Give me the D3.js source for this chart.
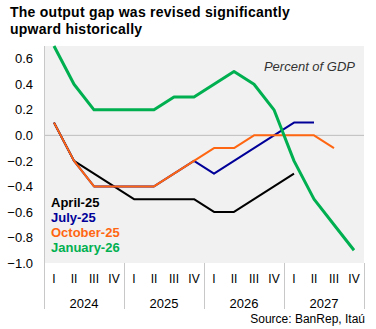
<!DOCTYPE html>
<html>
<head>
<meta charset="utf-8">
<script src="https://cdn.jsdelivr.net/npm/d3@7"></script>
<style>
  body { margin: 0; background: #fff; }
  svg { display: block; font-family: "Liberation Sans", Arial, sans-serif; }
</style>
</head>
<body>
<div id="chart"></div>
<script>
// data
const years = ["2024", "2025", "2026", "2027"];
const quarters = ["I", "II", "III", "IV"];
const seriesNames = ["April-25", "July-25", "October-25", "January-26"];
const seriesColors = ["#000000", "#000099", "#ff6611", "#00b050"];

const april25 = [0.1, -0.2, -0.3, -0.4, -0.5, -0.5, -0.5, -0.5, -0.6, -0.6, -0.5, -0.4, -0.3];
const july25 = [0.1, -0.2, -0.4, -0.4, -0.4, -0.4, -0.3, -0.2, -0.3, -0.2, -0.1, 0.0, 0.1, 0.1];
const october25 = [0.1, -0.2, -0.4, -0.4, -0.4, -0.4, -0.3, -0.2, -0.1, -0.1, 0.0, 0.0, 0.0, 0.0, -0.1];
const january26 = [0.7, 0.4, 0.2, 0.2, 0.2, 0.2, 0.3, 0.3, 0.4, 0.5, 0.4, 0.2, -0.2, -0.5, -0.7, -0.9];
const yTicks = [0.6, 0.4, 0.2, 0.0, -0.2, -0.4, -0.6, -0.8, -1.0];

const allSeries = [april25, july25, october25, january26];
const periods = years.flatMap(y => quarters.map(q => y + "-" + q));

// chart variables
const width = 376, height = 329;
const plotLeft = 44, plotRight = 364, plotTop = 46, plotBottom = 263;

const svg = d3.select("#chart").append("svg")
    .attr("width", width)
    .attr("height", height);

// scales
const xScale = d3.scaleBand().domain(periods).range([plotLeft, plotRight]);
const yearScale = d3.scaleBand().domain(years).range([plotLeft, plotRight]);
const yScale = d3.scaleLinear().domain([-1.0, 0.7]).range([plotBottom, plotTop]);

// title
const title = svg.append("text")
    .attr("x", 10)
    .attr("y", 17)
    .attr("font-size", 14)
    .attr("font-weight", "bold")
    .attr("letter-spacing", 0.25)
    .attr("fill", "#000");
title.append("tspan").attr("x", 10).attr("dy", 0).text("The output gap was revised significantly");
title.append("tspan").attr("x", 10).attr("dy", 17).text("upward historically");

// plot background
svg.append("rect")
    .attr("x", plotLeft)
    .attr("y", plotTop)
    .attr("width", plotRight - plotLeft)
    .attr("height", plotBottom - plotTop)
    .attr("fill", "#f1f1f1");

// zero line
svg.append("line")
    .attr("x1", plotLeft).attr("x2", plotRight)
    .attr("y1", yScale(0)).attr("y2", yScale(0))
    .attr("stroke", "#bdbdbd")
    .attr("stroke-width", 1);

// y axis
const yAxis = d3.axisLeft(yScale)
    .tickValues(yTicks)
    .tickSize(0)
    .tickPadding(11)
    .tickFormat(d3.format(".1f"));

const gy = svg.append("g")
    .attr("transform", "translate(" + plotLeft + ",0)")
    .call(yAxis);
gy.select(".domain").remove();
gy.selectAll("text").attr("font-size", 13).attr("fill", "#000")
    .attr("font-family", "Liberation Sans, Arial, sans-serif");

svg.append("line")
    .attr("x1", plotLeft + 0.5).attr("x2", plotLeft + 0.5)
    .attr("y1", plotTop).attr("y2", 309)
    .attr("stroke", "#c8c8c8");

// year separators
years.forEach(y => {
  const xr = yearScale(y) + yearScale.bandwidth();
  svg.append("line")
      .attr("x1", xr + 0.5).attr("x2", xr + 0.5)
      .attr("y1", plotBottom).attr("y2", 309)
      .attr("stroke", "#c8c8c8");
});

// quarter labels
svg.selectAll(".qlabel")
    .data(periods)
    .enter()
    .append("text")
    .attr("class", "qlabel")
    .attr("x", d => xScale(d) + xScale.bandwidth() / 2)
    .attr("y", 283)
    .attr("text-anchor", "middle")
    .attr("font-size", 12)
    .text(d => d.split("-")[1]);

// year labels
svg.selectAll(".ylabel")
    .data(years)
    .enter()
    .append("text")
    .attr("class", "ylabel")
    .attr("x", d => yearScale(d) + yearScale.bandwidth() / 2)
    .attr("y", 308)
    .attr("text-anchor", "middle")
    .attr("font-size", 13)
    .text(d => d);

// lines
const line = d3.line()
    .x((d, i) => xScale(periods[i]) + xScale.bandwidth() / 2)
    .y(d => yScale(d));

allSeries.forEach((s, i) => {
  svg.append("path")
      .datum(s)
      .attr("d", line)
      .attr("fill", "none")
      .attr("stroke", seriesColors[i])
      .attr("stroke-width", i === 3 ? 3 : 2)
      .attr("stroke-linejoin", "round");
});

// legend
svg.selectAll(".legend")
    .data(seriesNames)
    .enter()
    .append("text")
    .attr("class", "legend")
    .attr("x", 51)
    .attr("y", (d, i) => 207 + i * 15)
    .attr("font-size", 13)
    .attr("font-weight", "bold")
    .attr("fill", (d, i) => seriesColors[i])
    .text(d => d);

// unit note
svg.append("text")
    .attr("x", 355)
    .attr("y", 71)
    .attr("text-anchor", "end")
    .attr("font-size", 13)
    .attr("font-style", "italic")
    .attr("fill", "#333")
    .text("Percent of GDP");

// source
svg.append("text")
    .attr("x", 365)
    .attr("y", 323)
    .attr("text-anchor", "end")
    .attr("font-size", 12)
    .attr("fill", "#000")
    .text("Source: BanRep, Itaú");
</script>
</body>
</html>
